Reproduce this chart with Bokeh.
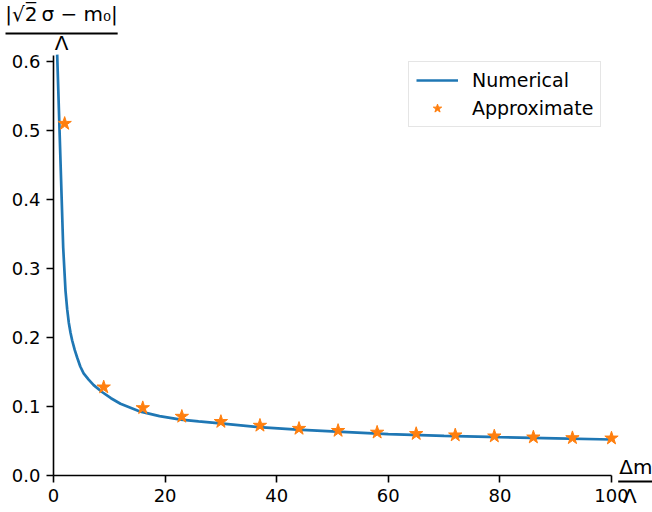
from bokeh.plotting import figure
from bokeh.models import Range1d, FixedTicker, PrintfTickFormatter, Label, BoxAnnotation, Legend
from bokeh.embed import file_html
from bokeh.resources import INLINE

# Numerical curve
num_x = [0.66, 1.74, 2.15, 2.45, 2.75, 3.05, 3.34, 3.8, 4.24, 4.8, 5.4, 6.3, 7.2, 8.7, 10.3, 12.0,
         15.6, 19.0, 22.8, 26.0, 29.9, 36.8, 43.7, 50.8, 60.0, 70.0, 80.0, 90.0, 100.0]
num_y = [0.610, 0.330, 0.268, 0.241, 0.221, 0.207, 0.196, 0.182, 0.171, 0.158, 0.148, 0.139, 0.131, 0.121, 0.112, 0.104,
         0.0925, 0.086, 0.081, 0.0785, 0.0755, 0.070, 0.0665, 0.0635, 0.060, 0.0575, 0.0555, 0.0538, 0.0522]

# Approximate points
app_x = [2, 9, 16, 23, 30, 37, 44, 51, 58, 65, 72, 79, 86, 93, 100]
app_y = [0.510, 0.128, 0.098, 0.0855, 0.078, 0.0725, 0.068, 0.065, 0.0625, 0.0605, 0.0585, 0.057, 0.0555, 0.0545, 0.054]

x_ticks = [0, 20, 40, 60, 80, 100]
y_ticks = [0.0, 0.1, 0.2, 0.3, 0.4, 0.5, 0.6]
x_lim = (0, 100)
y_lim = (0, 0.609)

FONT = "DejaVu Sans"
FS = "18px"

# frame covers the whole canvas; axes are pinned at x=0 / y=0 with bounds
p = figure(width=652, height=512, output_backend="svg", toolbar_location=None,
           x_range=Range1d(-9.498, 107.35), y_range=Range1d(-0.05362, 0.6884),
           min_border_left=0, min_border_right=0, min_border_top=0, min_border_bottom=0)
p.title.visible = False
p.outline_line_color = None
p.grid.visible = False
p.background_fill_color = "white"
p.border_fill_color = "white"

p.xaxis.fixed_location = 0
p.yaxis.fixed_location = 0
p.xaxis.bounds = x_lim
p.yaxis.bounds = y_lim

for ax in (p.xaxis[0], p.yaxis[0]):
    ax.axis_line_width = 1.6
    ax.axis_line_color = "black"
    ax.major_tick_line_width = 1.6
    ax.major_tick_line_color = "black"
    ax.major_tick_in = 0
    ax.major_tick_out = 7
    ax.minor_tick_line_color = None
    ax.major_label_text_font = FONT
    ax.major_label_text_font_size = FS
    ax.major_label_text_color = "black"
    ax.major_label_standoff = 6

p.xaxis.ticker = FixedTicker(ticks=x_ticks)
p.yaxis.ticker = FixedTicker(ticks=y_ticks)
p.yaxis.formatter = PrintfTickFormatter(format="%.1f")
p.xaxis.formatter = PrintfTickFormatter(format="%d")

r1 = p.line(num_x, num_y, line_color="#1f77b4", line_width=2.7)
r2 = p.scatter(app_x, app_y, marker="star", size=14, fill_color="#ff7f0e", line_color="#ff7f0e")

legend = Legend(items=[("Numerical", [r1]), ("Approximate", [r2])], location=(408, 385))
legend.label_text_font = FONT
legend.label_text_font_size = "19px"
legend.label_text_color = "black"
legend.glyph_width = 42
legend.glyph_height = 22
legend.label_height = 22
legend.spacing = 6
legend.padding = 7
legend.margin = 0
legend.label_standoff = 14
legend.border_line_color = "#cccccc"
legend.border_line_width = 1.2
legend.background_fill_alpha = 0.8
p.add_layout(legend)

# y label: |sqrt2 sigma - m0| / Lambda
p.add_layout(Label(x=1.43, y=0.6695, text="|\u221a2\u0305\u2009\u03c3 \u2212 m\u2080|", text_font=FONT,
                   text_font_size="20px", text_align="center", text_baseline="alphabetic", text_color="black"))
p.add_layout(BoxAnnotation(left=-8.6, right=11.5, bottom=0.6391, top=0.6420, fill_color="black", fill_alpha=1,
                           line_color=None))
p.add_layout(Label(x=1.43, y=0.6275, text="\u039b", text_font=FONT, text_font_size="20px",
                   text_align="center", text_baseline="alphabetic", text_color="black"))

# x label: Delta m / Lambda
p.add_layout(Label(x=101.4, y=0.0116, text="\u0394m", text_font=FONT, text_font_size="20px",
                   text_align="left", text_baseline="alphabetic", text_color="black"))
p.add_layout(BoxAnnotation(left=101.2, right=107.3, bottom=-0.0101, top=-0.0072, fill_color="black", fill_alpha=1,
                           line_color=None))
p.add_layout(Label(x=103.3, y=-0.029, text="\u039b", text_font=FONT, text_font_size="20px",
                   text_align="center", text_baseline="alphabetic", text_color="black"))

open("out.html", "w").write(file_html(p, INLINE))
